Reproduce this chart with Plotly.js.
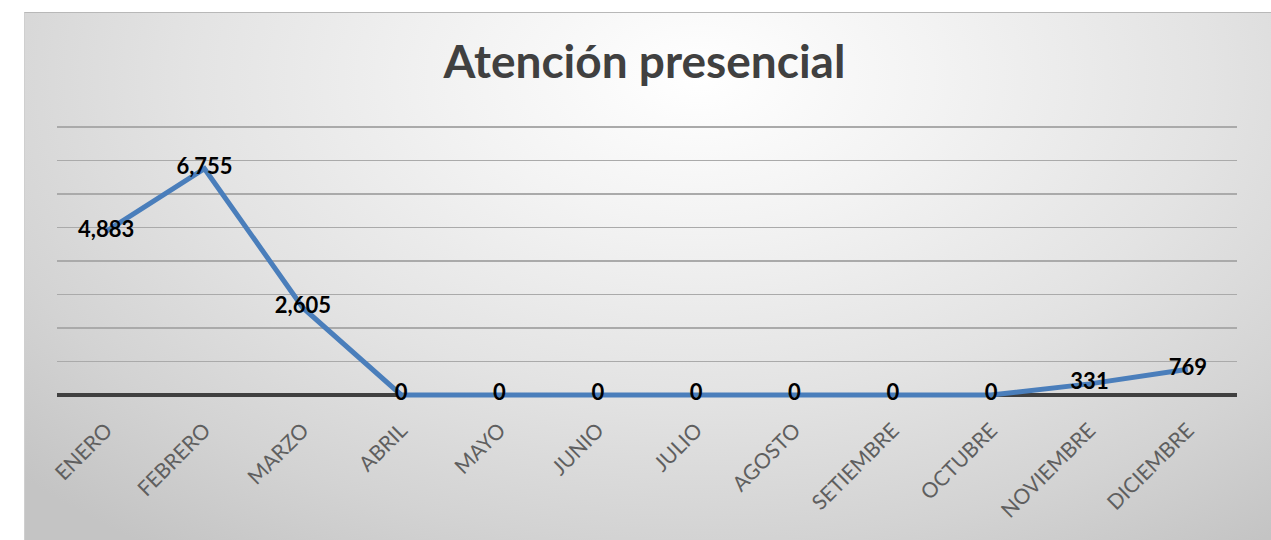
<!DOCTYPE html>
<html>
<head>
<meta charset="utf-8">
<script src="https://cdn.plot.ly/plotly-3.0.1.min.js"></script>
<style>
  html, body { margin: 0; padding: 0; background: #ffffff; }
  #wrap { position: relative; width: 1271px; height: 540px; overflow: hidden; }
  #bg {
    position: absolute; left: 24px; top: 12px; width: 1247px; height: 528px;
    background: radial-gradient(ellipse 75% 110% at 54% 12%, #ffffff 0%, #f3f3f3 25%, #e3e3e3 55%, #d3d3d3 80%, #c4c4c4 100%);
    border-top: 1px solid #b8b8b8;
    border-left: 1px solid #cfcfcf;
  }
  #chart { position: absolute; left: 0; top: 0; width: 1271px; height: 540px; }
</style>
</head>
<body>
<div id="wrap">
  <div id="bg"></div>
  <div id="chart"></div>
</div>
<script>
const months = ["ENERO", "FEBRERO", "MARZO", "ABRIL", "MAYO", "JUNIO", "JULIO", "AGOSTO", "SETIEMBRE", "OCTUBRE", "NOVIEMBRE", "DICIEMBRE"];
const attendance = [4883, 6755, 2605, 0, 0, 0, 0, 0, 0, 0, 331, 769];
const chartTitle = "Atención presencial";

const trace = {
  type: "scatter",
  mode: "lines+text",
  x: months,
  y: attendance,
  line: { color: "#4a7ebb", width: 5 },
  texttemplate: "%{y:,}",
  textposition: "middle center",
  textfont: { family: "Lato, sans-serif", size: 22, color: "#000000", weight: "bold" },
  cliponaxis: false,
  hoverinfo: "skip",
  showlegend: false
};

const layout = {
  width: 1271,
  height: 540,
  paper_bgcolor: "rgba(0,0,0,0)",
  plot_bgcolor: "rgba(0,0,0,0)",
  margin: { l: 57, r: 34, t: 125, b: 135 },
  title: {
    text: "<b>" + chartTitle + "</b>",
    font: { family: "Lato, sans-serif", size: 46, color: "#404040" },
    x: 0.507, xref: "container", xanchor: "center",
    y: 0.885, yref: "container", yanchor: "middle"
  },
  xaxis: {
    type: "category",
    range: [-0.5, 11.5],
    showgrid: false,
    showline: false,
    zeroline: false,
    ticks: "",
    tickangle: -45,
    ticklabelstandoff: 8,
    tickfont: { family: "Lato, sans-serif", size: 21, color: "#5f5f5f" }
  },
  yaxis: {
    range: [-300, 8060],
    tick0: 0,
    dtick: 1000,
    showgrid: true,
    gridcolor: "#aaaaaa",
    gridwidth: 1.5,
    zeroline: true,
    zerolinecolor: "#404040",
    zerolinewidth: 4,
    showticklabels: false,
    ticks: "",
    showline: false
  }
};

Plotly.newPlot("chart", [trace], layout, { displayModeBar: false, staticPlot: true });
</script>
</body>
</html>
